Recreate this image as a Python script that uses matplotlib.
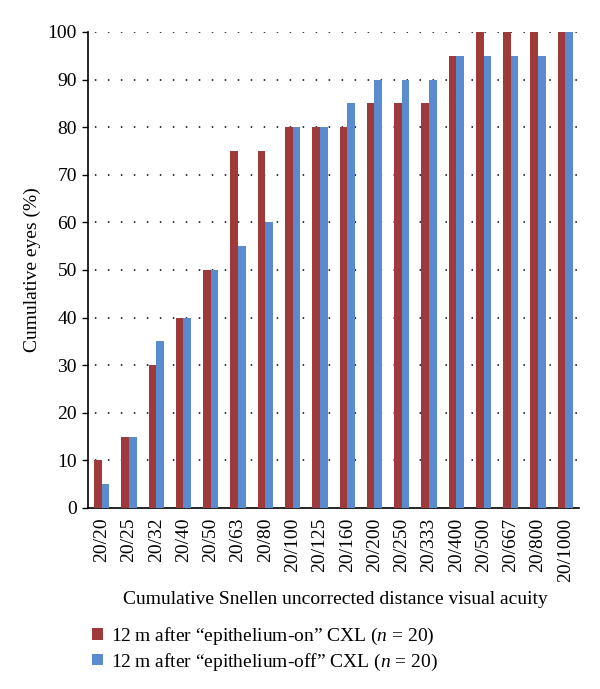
import matplotlib
matplotlib.use("Agg")
import matplotlib.pyplot as plt
import numpy as np
from matplotlib.patches import Patch

plt.rcParams['font.family'] = ['Liberation Serif', 'DejaVu Serif']
plt.rcParams['mathtext.fontset'] = 'custom'
plt.rcParams['mathtext.rm'] = 'Liberation Serif'
plt.rcParams['mathtext.it'] = 'Liberation Serif:italic'

categories = ["20/20", "20/25", "20/32", "20/40", "20/50", "20/63", "20/80", "20/100",
              "20/125", "20/160", "20/200", "20/250", "20/333", "20/400", "20/500",
              "20/667", "20/800", "20/1000"]
epi_on = [10, 15, 30, 40, 50, 75, 75, 80, 80, 80, 85, 85, 85, 95, 100, 100, 100, 100]
epi_off = [5, 15, 35, 40, 50, 55, 60, 80, 80, 85, 90, 90, 90, 95, 95, 95, 95, 100]
series_labels = ["12\u2009m after \u201cepithelium-on\u201d CXL ($n$ = 20)",
                 "12\u2009m after \u201cepithelium-off\u201d CXL ($n$ = 20)"]
yticks = [0, 10, 20, 30, 40, 50, 60, 70, 80, 90, 100]

red = '#9E3A3A'
blue = '#5A8BCF'
FS = 14

fig = plt.figure(figsize=(6.0, 6.89), dpi=100)
ax = fig.add_axes([0.1467, 0.2627, 0.8183, 0.6909])

x = np.arange(len(categories))
w = 0.28
ax.bar(x - w / 2, epi_on, width=w, color=red, zorder=3)
ax.bar(x + w / 2, epi_off, width=w, color=blue, zorder=3)

ax.set_xlim(-0.5, len(categories) - 0.5)
ax.set_ylim(0, 100)
ax.set_yticks(yticks)
ax.set_xticks(x)
ax.set_xticklabels(categories, rotation=90, fontsize=FS)
ax.tick_params(axis='x', length=0, pad=7)
ax.tick_params(axis='y', length=4, width=1, direction='out', labelsize=FS, pad=4)

for yv in yticks[1:]:
    ax.axhline(yv, color='black', linewidth=1.1, linestyle=(4, (1, 7.5)), zorder=1)

for s in ['top', 'right']:
    ax.spines[s].set_visible(False)
ax.spines['left'].set_linewidth(1.2)
ax.spines['bottom'].set_linewidth(1.2)

fig.text(32 / 600, 1 - 270 / 689, "Cumulative eyes (%)", rotation=90,
         ha='center', va='center', fontsize=FS)
fig.text(335 / 600, 1 - 600 / 689, "Cumulative Snellen uncorrected distance visual acuity",
         ha='center', va='center', fontsize=FS)

handles = [Patch(facecolor=red), Patch(facecolor=blue)]
fig.legend(handles, series_labels, loc='upper left', bbox_to_anchor=(92 / 600, 1 - 626 / 689),
           frameon=False, fontsize=FS, handlelength=0.55, handleheight=0.55,
           handletextpad=0.45, labelspacing=0.22, borderaxespad=0, borderpad=0)

fig.savefig("out.png", dpi=100)
